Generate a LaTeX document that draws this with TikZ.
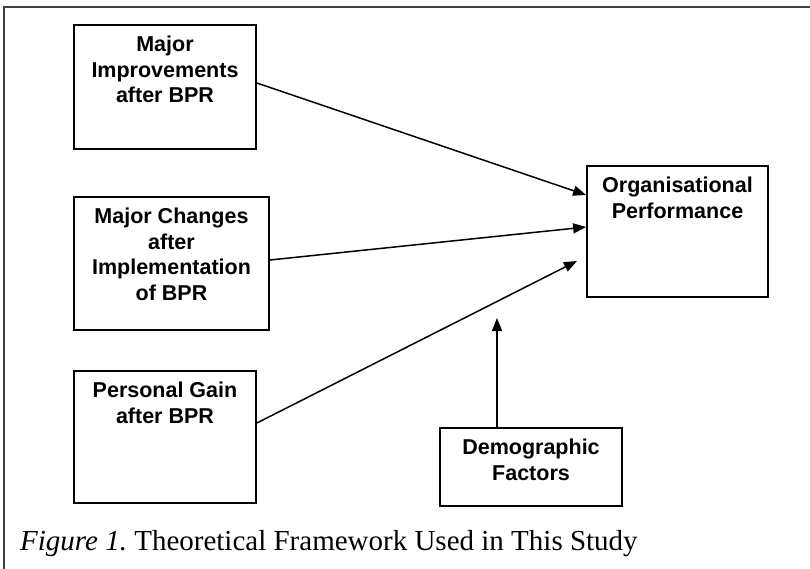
\documentclass[tikz,border=0pt]{standalone}
\usepackage{fontspec}
\setmainfont{Liberation Serif}
\setsansfont{Liberation Sans}
\usetikzlibrary{arrows.meta}
\begin{document}
\begin{tikzpicture}[x=1pt,y=-1pt,
  box/.style={draw=black,line width=1.8pt,rectangle,inner sep=0pt,fill=none},
  boxtext/.style={anchor=north,inner sep=0pt,align=center,font=\sffamily\bfseries\fontsize{21.5}{25.5}\selectfont},
  conn/.style={line width=1.5pt,-{Triangle[length=13pt,width=10pt]}},
  frameline/.style={line width=1.6pt,draw=black!75}
]
\useasboundingbox (0,0) rectangle (810,569);
% frame
\coordinate (fbl) at (4,570);
\coordinate (ftl) at (4,7);
\coordinate (ftr) at (811,7);
\draw[frameline] (fbl) -- (ftl) -- (ftr);
% boxes
\node[box,minimum width=182pt,minimum height=124pt] (b1) at (165,87) {};
\node[box,minimum width=195pt,minimum height=133pt] (b2) at (171.5,263.5) {};
\node[box,minimum width=182pt,minimum height=132pt] (b3) at (165,437) {};
\node[box,minimum width=181pt,minimum height=131pt] (org) at (677.5,231.5) {};
\node[box,minimum width=182pt,minimum height=78pt] (demo) at (531,467) {};
% texts
\node[boxtext] (t1) at ([yshift=-12pt]b1.north) {Major\\Improvements\\after BPR};
\node[boxtext] (t2) at ([yshift=-12pt]b2.north) {Major Changes\\after\\Implementation\\of BPR};
\node[boxtext] (t3) at ([yshift=-12pt]b3.north) {Personal Gain\\after BPR};
\node[boxtext] (t4) at ([yshift=-12pt]org.north) {Organisational\\Performance};
\node[boxtext] (t5) at ([yshift=-12pt]demo.north) {Demographic\\Factors};
% connectors
\coordinate (a3end) at (577,261);
\coordinate (a4end) at (497,318);
\draw[conn] ([yshift=4pt]b1.east) -- ([yshift=36.5pt]org.west);
\draw[conn] ([yshift=3.5pt]b2.east) -- ([yshift=4.5pt]org.west);
\draw[conn] ([yshift=14pt]b3.east) -- (a3end);
\draw[conn] ([xshift=-34pt]demo.north) -- (a4end);
% caption
\node[anchor=base west,inner sep=0pt,font=\fontsize{29}{33}\selectfont] (cap) at (20,550) {\frenchspacing\textit{Figure 1.} Theoretical Framework Used in This Study};
\end{tikzpicture}
\end{document}
